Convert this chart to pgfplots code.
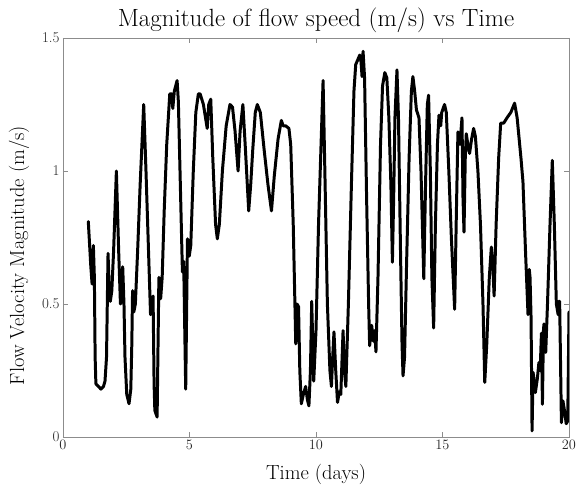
\documentclass[border=0pt]{standalone}
\usepackage{pgfplots}
\pgfplotsset{compat=1.18}
\begin{document}
\begin{tikzpicture}
\begin{axis}[
  scale only axis,
  width=506bp, height=399bp,
  xmin=0, xmax=20, ymin=0, ymax=1.5,
  xtick={0,5,10,15,20},
  ytick={0,0.5,1,1.5},
  yticklabels={0,0.5,1,1.5},
  tick align=inside,
  major tick length=5bp,
  axis line style={draw=black!45, line width=0.6pt},
  tick style={draw=black!45, line width=0.6pt},
  ticklabel style={font=\fontsize{15}{17}\selectfont, text=black!85},
  title={Magnitude of flow speed (m/s) vs Time},
  title style={font=\fontsize{25}{29}\selectfont, yshift=-4bp},
  xlabel={Time (days)},
  ylabel={Flow Velocity Magnitude (m/s)},
  label style={font=\fontsize{20.5}{24}\selectfont},
  xlabel style={yshift=-8bp},
  ylabel style={yshift=6bp, xshift=-18bp},
]
\addplot[black, line width=3pt, line join=round, line cap=round] coordinates {
(1.00,0.81)(1.10,0.64)(1.15,0.575)(1.20,0.72)(1.24,0.60)(1.27,0.30)(1.30,0.20)
(1.40,0.19)(1.50,0.18)(1.60,0.19)(1.66,0.21)(1.72,0.30)(1.78,0.69)(1.83,0.55)
(1.87,0.51)(1.93,0.55)(2.00,0.70)(2.11,1.00)(2.20,0.70)(2.27,0.50)(2.30,0.52)
(2.36,0.64)(2.41,0.50)(2.45,0.30)(2.52,0.16)(2.61,0.125)(2.68,0.18)(2.72,0.35)
(2.75,0.55)(2.80,0.47)(2.86,0.50)(2.95,0.70)(3.05,0.95)(3.19,1.25)(3.28,1.00)
(3.38,0.70)(3.46,0.46)(3.50,0.47)(3.56,0.53)(3.60,0.20)(3.63,0.10)(3.72,0.075)
(3.79,0.60)(3.86,0.52)(3.92,0.60)(4.00,0.85)(4.10,1.10)(4.22,1.29)(4.30,1.29)
(4.34,1.235)(4.40,1.30)(4.51,1.34)(4.56,1.26)(4.65,0.90)(4.72,0.62)(4.77,0.66)
(4.85,0.18)(4.92,0.745)(4.99,0.68)(5.05,0.72)(5.15,1.00)(5.25,1.22)(5.35,1.29)
(5.42,1.29)(5.55,1.25)(5.70,1.16)(5.76,1.25)(5.84,1.27)(5.92,1.05)(6.03,0.80)
(6.10,0.745)(6.18,0.80)(6.30,1.00)(6.45,1.17)(6.60,1.25)(6.70,1.24)(6.80,1.15)
(6.92,1.00)(7.00,1.15)(7.11,1.25)(7.20,1.10)(7.34,0.85)(7.42,0.95)(7.50,1.08)
(7.60,1.22)(7.68,1.25)(7.80,1.22)(7.95,1.08)(8.10,0.95)(8.24,0.85)(8.35,0.98)
(8.50,1.12)(8.63,1.19)(8.70,1.17)(8.80,1.17)(8.93,1.16)(9.00,1.10)(9.10,0.80)
(9.20,0.35)(9.25,0.50)(9.31,0.49)(9.36,0.25)(9.42,0.125)(9.50,0.16)(9.59,0.19)
(9.66,0.14)(9.72,0.117)(9.78,0.25)(9.83,0.51)(9.91,0.21)(10.00,0.40)(10.10,0.80)
(10.20,1.10)(10.28,1.34)(10.35,1.00)(10.45,0.50)(10.55,0.25)(10.61,0.19)(10.66,0.30)
(10.71,0.395)(10.78,0.25)(10.85,0.13)(10.92,0.17)(10.98,0.16)(11.07,0.40)(11.12,0.25)
(11.18,0.19)(11.28,0.50)(11.40,0.95)(11.50,1.30)(11.57,1.40)(11.73,1.436)(11.78,1.41)
(11.82,1.355)(11.86,1.45)(11.92,1.35)(12.00,0.90)(12.08,0.50)(12.12,0.343)(12.20,0.42)
(12.27,0.36)(12.32,0.40)(12.37,0.32)(12.45,0.60)(12.55,1.10)(12.63,1.32)(12.72,1.37)
(12.80,1.35)(12.88,1.20)(12.96,0.95)(13.02,0.657)(13.07,0.90)(13.12,1.20)(13.20,1.38)
(13.26,1.20)(13.34,0.70)(13.40,0.35)(13.44,0.23)(13.50,0.30)(13.58,0.65)(13.68,1.05)
(13.77,1.30)(13.83,1.355)(13.90,1.30)(13.97,1.23)(14.07,1.20)(14.15,1.00)(14.26,0.595)
(14.33,0.95)(14.40,1.25)(14.45,1.285)(14.52,1.00)(14.58,0.60)(14.65,0.41)(14.72,0.80)
(14.80,1.10)(14.86,1.21)(14.93,1.17)(14.97,1.22)(15.08,1.25)(15.15,1.22)(15.25,1.00)
(15.35,0.75)(15.48,0.48)(15.55,0.85)(15.61,1.147)(15.69,1.10)(15.77,1.20)(15.81,0.90)
(15.85,0.77)(15.90,1.05)(15.94,1.14)(16.00,1.10)(16.07,1.066)(16.15,1.12)(16.23,1.16)
(16.30,1.13)(16.40,1.00)(16.50,0.80)(16.60,0.50)(16.67,0.205)(16.75,0.35)(16.85,0.60)
(16.93,0.714)(16.98,0.66)(17.04,0.53)(17.12,0.80)(17.22,1.05)(17.30,1.18)(17.35,1.18)
(17.42,1.18)(17.55,1.20)(17.70,1.22)(17.85,1.255)(17.95,1.20)(18.10,1.05)(18.18,0.96)
(18.28,0.70)(18.38,0.46)(18.43,0.63)(18.46,0.60)(18.50,0.45)(18.54,0.023)(18.58,0.243)
(18.64,0.20)(18.67,0.167)(18.75,0.22)(18.81,0.28)(18.86,0.25)(18.91,0.39)(18.95,0.123)
(18.99,0.40)(19.01,0.425)(19.05,0.33)(19.08,0.318)(19.15,0.50)(19.25,0.80)(19.34,1.04)
(19.42,0.80)(19.50,0.50)(19.57,0.46)(19.60,0.51)(19.63,0.51)(19.67,0.25)(19.70,0.054)
(19.76,0.136)(19.82,0.10)(19.89,0.05)(19.95,0.06)(20.00,0.47)
};
\end{axis}
\pgfresetboundingbox
\path ([shift={(-63bp,-51bp)}]current axis.south west) rectangle ([shift={(7bp,38bp)}]current axis.north east);
\end{tikzpicture}
\end{document}
